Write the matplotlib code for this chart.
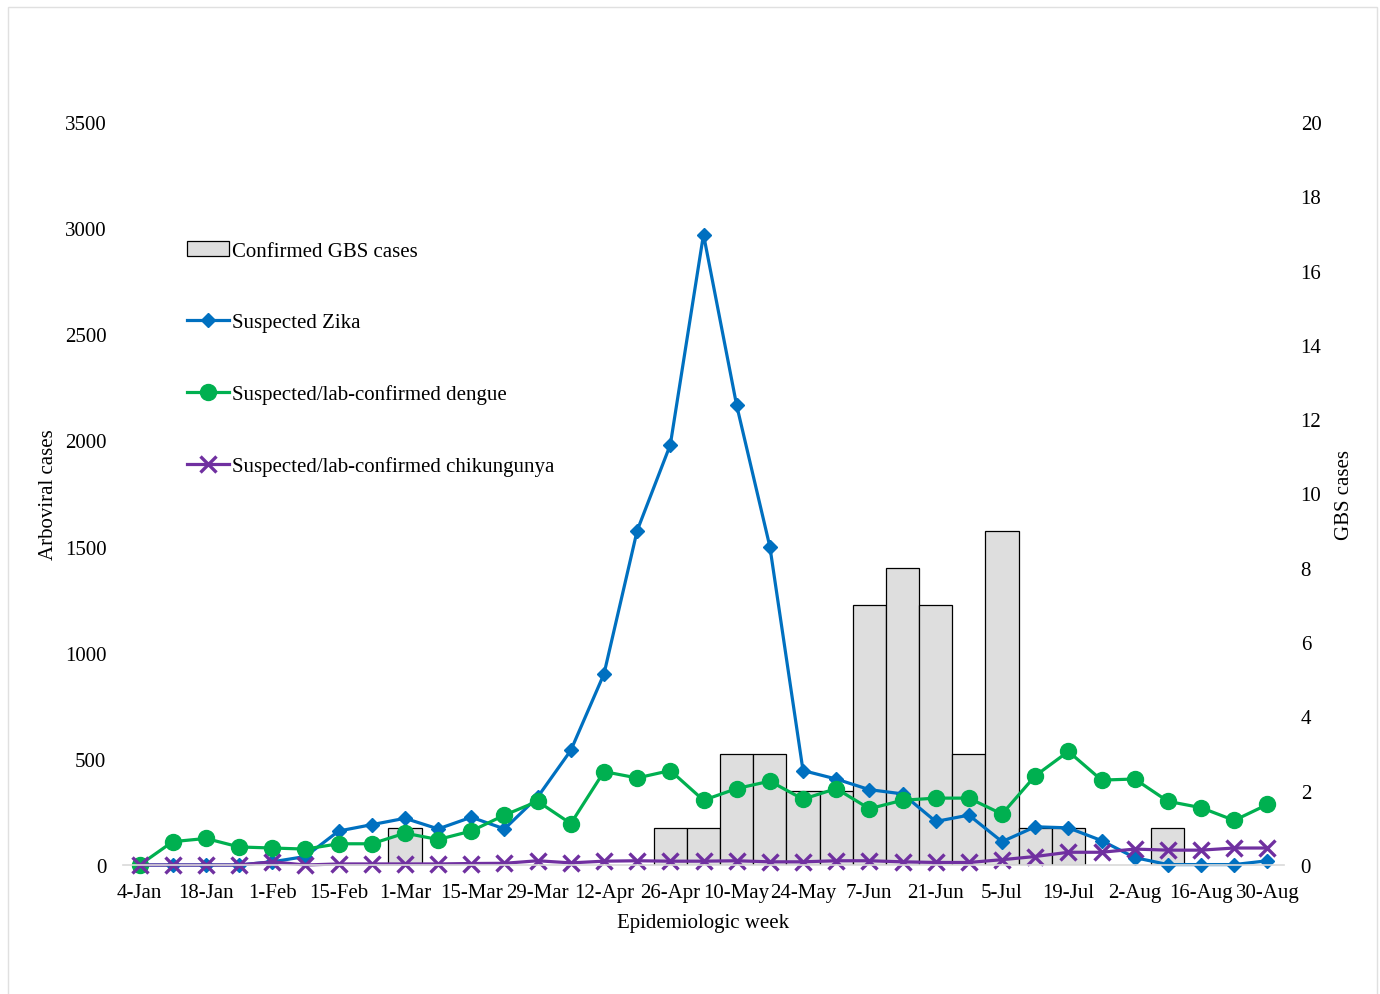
import numpy as np
import matplotlib.pyplot as plt
from matplotlib.patches import Rectangle

plt.rcParams['font.family'] = ['Liberation Serif', 'DejaVu Serif']

weeks = ['4-Jan', '11-Jan', '18-Jan', '25-Jan', '1-Feb', '8-Feb', '15-Feb', '22-Feb',
         '1-Mar', '8-Mar', '15-Mar', '22-Mar', '29-Mar', '5-Apr', '12-Apr', '19-Apr',
         '26-Apr', '3-May', '10-May', '17-May', '24-May', '31-May', '7-Jun', '14-Jun',
         '21-Jun', '28-Jun', '5-Jul', '12-Jul', '19-Jul', '26-Jul', '2-Aug', '9-Aug',
         '16-Aug', '23-Aug', '30-Aug']

gbs = [0, 0, 0, 0, 0, 0, 0, 0, 1, 0, 0, 0, 0, 0, 0, 0, 1, 1, 3, 3, 2, 2, 7, 8, 7, 3,
       9, 1, 1, 0, 0, 1, 0, 0, 0]
zika = [0, 0, 0, 0, 15, 40, 160, 190, 220, 170, 225, 170, 320, 540, 900, 1575, 1980,
        2970, 2165, 1500, 445, 405, 355, 335, 205, 235, 110, 180, 175, 115, 35, 2, 2,
        2, 20]
dengue = [0, 110, 125, 85, 80, 75, 100, 100, 150, 120, 160, 235, 300, 195, 440, 410,
          445, 305, 360, 395, 310, 360, 265, 305, 315, 315, 240, 420, 535, 400, 405,
          300, 270, 210, 285]
chik = [0, 0, 0, 0, 15, 0, 5, 5, 5, 5, 7, 8, 20, 10, 18, 20, 18, 18, 20, 15, 15, 20,
        20, 15, 12, 12, 25, 40, 60, 60, 75, 70, 70, 80, 80]


def main():
    fig = plt.figure(figsize=(13.8, 9.95), dpi=100)
    ax = fig.add_axes([123 / 1380, 1 - 866 / 995, (1284 - 123) / 1380, (866 - 123) / 995])
    ax2 = ax.twinx()

    x = np.arange(len(weeks))
    g = np.array(gbs)
    nz = g > 0
    bars = ax2.bar(x[nz], g[nz], width=1.0, color='#DEDEDE', edgecolor='black',
                   linewidth=0.9, label='Confirmed GBS cases')

    # lines on top of the bars
    ax.set_zorder(ax2.get_zorder() + 1)
    ax.patch.set_visible(False)

    l1, = ax.plot(x, zika, color='#0070C0', lw=2.3, marker='D', ms=7.5,
                  label='Suspected Zika', clip_on=False)
    l2, = ax.plot(x, dengue, color='#00B050', lw=2.3, marker='o', ms=11.5,
                  label='Suspected/lab-confirmed dengue', clip_on=False)
    l3, = ax.plot(x, chik, color='#7030A0', lw=2.3, marker='x', ms=11.5, mew=2.4,
                  label='Suspected/lab-confirmed chikungunya', clip_on=False)

    ax.set_xlim(-0.5, 34.5)
    ax.set_ylim(0, 3500)
    ax2.set_ylim(0, 20)
    ax.set_yticks(np.arange(0, 3501, 500))
    ax2.set_yticks(np.arange(0, 21, 2))
    ax.set_xticks(x[::2])
    ax.set_xticklabels(weeks[::2])

    for a in (ax, ax2):
        for s in a.spines.values():
            s.set_visible(False)
        a.tick_params(length=0, labelsize=15)
    ax.spines['bottom'].set_visible(True)
    ax.spines['bottom'].set_color('#D9D9D9')
    ax.spines['bottom'].set_linewidth(1.2)
    ax.tick_params(axis='y', pad=12)
    ax2.tick_params(axis='y', pad=12)
    ax.tick_params(axis='x', pad=13)

    ax.set_ylabel('Arboviral cases', fontsize=15, labelpad=5)
    ax2.set_ylabel('GBS cases', fontsize=15, labelpad=10)
    ax.set_xlabel('Epidemiologic week', fontsize=15, labelpad=8)

    ax.legend([bars, l1, l2, l3], [h.get_label() for h in (bars, l1, l2, l3)],
              loc='upper left', bbox_to_anchor=(187 / 1380, 1 - 242 / 995),
              bbox_transform=fig.transFigure, frameon=False, fontsize=15,
              labelspacing=2.5, handlelength=2.0, handletextpad=0.15,
              borderpad=0, borderaxespad=0)

    fig.patches.append(Rectangle((8 / 1380, -0.01), (1377 - 8) / 1380, 1 - 8 / 995 + 0.01,
                                 transform=fig.transFigure, fill=False,
                                 edgecolor='#E0E0E0', linewidth=1))

    fig.savefig('out.png', dpi=100)


if __name__ == '__main__':
    main()
